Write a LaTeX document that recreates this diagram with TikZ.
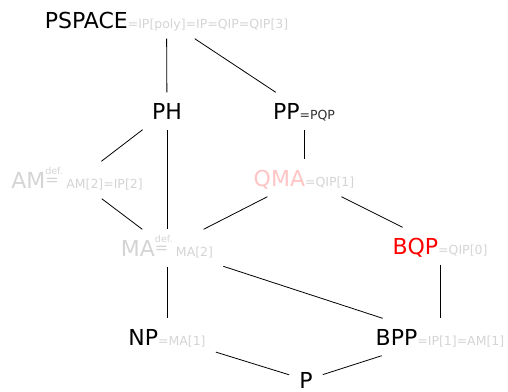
\documentclass[tikz,border=0pt]{standalone}
\usepackage{fontspec}
\setmainfont{DejaVu Sans}
\definecolor{lg}{HTML}{D4D4D4}
\definecolor{dk}{HTML}{303030}
\definecolor{qpink}{HTML}{FFC4C4}
\newcommand\subtxt[1]{{\fontsize{12.5}{12.5}\selectfont #1}}
\newcommand\defeqsym{\makebox[21pt][l]{\raisebox{3pt}{\shortstack[l]{\fontsize{9.5}{9.5}\selectfont def.\\\fontsize{16}{16}\selectfont =}}}}
\tikzset{
  cls/.style={font=\fontsize{22}{22}\selectfont, text height=20pt, text depth=4pt,
    inner ysep=6.5pt, inner xsep=10pt},
  edge/.style={draw=black, line width=0.8pt}
}
\begin{document}
\begin{tikzpicture}[x=1pt,y=-1pt]
\useasboundingbox (0,0) rectangle (508,391);
\node[cls] (pspace) at (166.5,20) {PSPACE\subtxt{\color{lg}=IP[poly]=IP=QIP=QIP[3]}};
\node[cls] (ph) at (167,111) {PH};
\node[cls] (pp) at (304,111) {PP\subtxt{\color{dk}=PQP}};
\node[cls] (am) at (77,180) {\color{lg}AM\defeqsym\subtxt{AM[2]=IP[2]}};
\node[cls] (qma) at (304,178) {{\color{qpink}QMA}\subtxt{\color{lg}=QIP[1]}};
\node[cls] (ma) at (167,248) {\color{lg}MA\defeqsym\subtxt{MA[2]}};
\node[cls] (bqp) at (440,246) {{\color{red}BQP}\subtxt{\color{lg}=QIP[0]}};
\node[cls] (np) at (167,337) {NP\subtxt{\color{lg}=MA[1]}};
\node[cls] (bpp) at (440,337) {BPP\subtxt{\color{lg}=IP[1]=AM[1]}};
\node[cls] (p) at (306,380) {P};
\draw[edge] (pspace) -- (ph);
\draw[edge] (pspace) -- (pp);
\draw[edge] (ph) -- (am);
\draw[edge] (ph) -- (ma);
\draw[edge] (am) -- (ma);
\draw[edge] (pp) -- (qma);
\draw[edge] (qma) -- (ma);
\draw[edge] (qma) -- (bqp);
\draw[edge] (ma) -- (np);
\draw[edge] (ma) -- (bpp);
\draw[edge] (bqp) -- (bpp);
\draw[edge] (np) -- (p);
\draw[edge] (bpp) -- (p);
\end{tikzpicture}
\end{document}
